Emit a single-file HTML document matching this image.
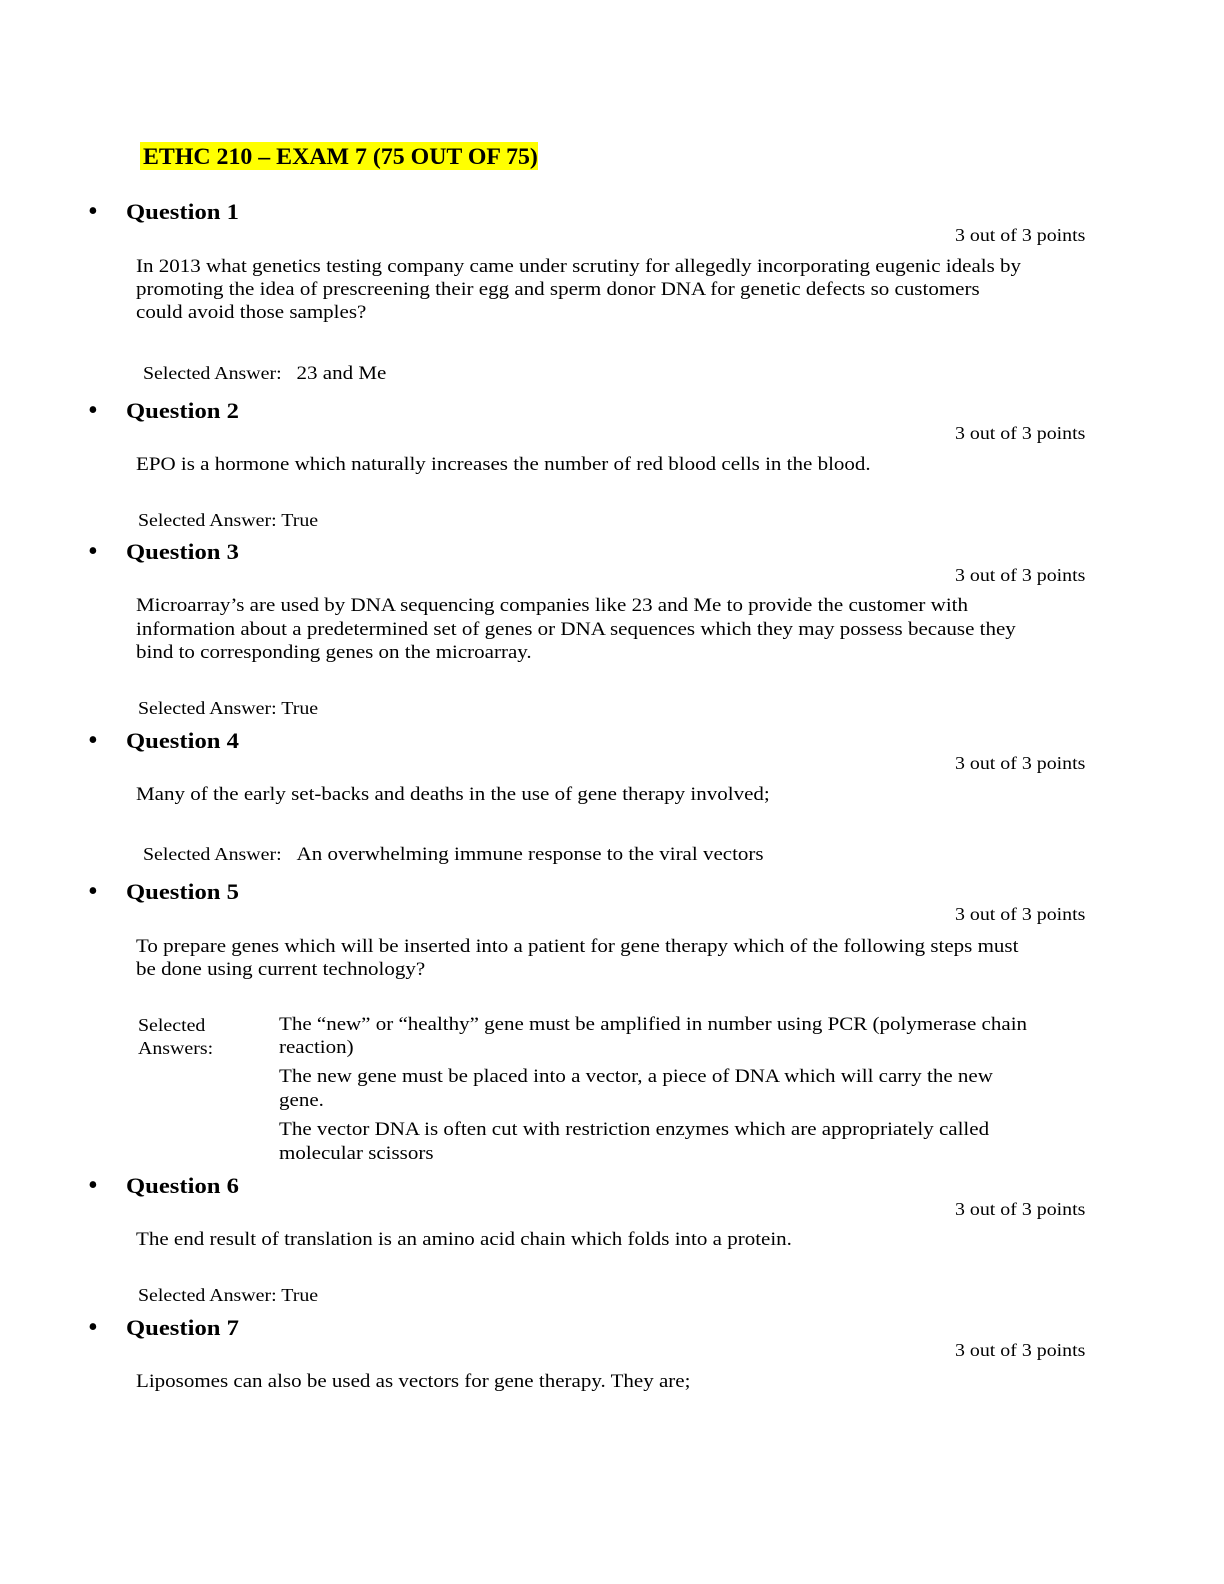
<!DOCTYPE html>
<html><head><meta charset="utf-8"><style>
body{margin:0;background:#fff;}
.p{position:relative;width:1224px;height:1584px;background:#fff;font-family:"Liberation Serif",serif;color:#000;}
.p>div{transform-origin:0 0;}
.l{position:absolute;white-space:nowrap;font-size:19px;line-height:24px;transform:scaleX(1.105);}
.h{position:absolute;white-space:nowrap;font-size:22px;font-weight:bold;line-height:26px;transform:scaleX(1.12);}
.b{position:absolute;left:88px;font-size:28px;line-height:26px;}
.pt{position:absolute;left:955px;white-space:nowrap;font-size:18px;line-height:24px;transform:scaleX(1.105);}
.s{position:absolute;white-space:nowrap;font-size:18px;line-height:24px;transform:scaleX(1.105);}
</style></head><body><div class="p">
<div style="position:absolute;left:140px;top:142px;width:398px;height:28px;background:#ffff00"></div>
<div class="h" style="left:143px;top:144px;font-size:23px;transform:scaleX(1.037)">ETHC 210 – EXAM 7 (75 OUT OF 75)</div>

<div class="b" style="top:199px">•</div><div class="h" style="left:126px;top:199px">Question 1</div>
<div class="pt" style="top:223px">3 out of 3 points</div>
<div class="l" style="left:136px;top:255px">In 2013 what genetics testing company came under scrutiny for allegedly incorporating eugenic ideals by</div>
<div class="l" style="left:136px;top:278px">promoting the idea of prescreening their egg and sperm donor DNA for genetic defects so customers</div>
<div class="l" style="left:136px;top:301px">could avoid those samples?</div>
<div class="s" style="left:143px;top:361px">Selected Answer:&nbsp;&nbsp;&nbsp;<span style="font-size:19px">23 and Me</span></div>

<div class="b" style="top:398px">•</div><div class="h" style="left:126px;top:398px">Question 2</div>
<div class="pt" style="top:421px">3 out of 3 points</div>
<div class="l" style="left:136px;top:453px">EPO is a hormone which naturally increases the number of red blood cells in the blood.</div>
<div class="s" style="left:138px;top:508px">Selected Answer: True</div>

<div class="b" style="top:539px">•</div><div class="h" style="left:126px;top:539px">Question 3</div>
<div class="pt" style="top:563px">3 out of 3 points</div>
<div class="l" style="left:136px;top:594px">Microarray’s are used by DNA sequencing companies like 23 and Me to provide the customer with</div>
<div class="l" style="left:136px;top:618px">information about a predetermined set of genes or DNA sequences which they may possess because they</div>
<div class="l" style="left:136px;top:641px">bind to corresponding genes on the microarray.</div>
<div class="s" style="left:138px;top:696px">Selected Answer: True</div>

<div class="b" style="top:728px">•</div><div class="h" style="left:126px;top:728px">Question 4</div>
<div class="pt" style="top:751px">3 out of 3 points</div>
<div class="l" style="left:136px;top:783px">Many of the early set-backs and deaths in the use of gene therapy involved;</div>
<div class="s" style="left:143px;top:842px">Selected Answer:&nbsp;&nbsp;&nbsp;<span style="font-size:19px">An overwhelming immune response to the viral vectors</span></div>

<div class="b" style="top:879px">•</div><div class="h" style="left:126px;top:879px">Question 5</div>
<div class="pt" style="top:902px">3 out of 3 points</div>
<div class="l" style="left:136px;top:935px">To prepare genes which will be inserted into a patient for gene therapy which of the following steps must</div>
<div class="l" style="left:136px;top:958px">be done using current technology?</div>
<div class="s" style="left:138px;top:1013px">Selected</div>
<div class="s" style="left:138px;top:1036px">Answers:</div>
<div class="l" style="left:279px;top:1013px">The “new” or “healthy” gene must be amplified in number using PCR (polymerase chain</div>
<div class="l" style="left:279px;top:1036px">reaction)</div>
<div class="l" style="left:279px;top:1065px">The new gene must be placed into a vector, a piece of DNA which will carry the new</div>
<div class="l" style="left:279px;top:1089px">gene.</div>
<div class="l" style="left:279px;top:1118px">The vector DNA is often cut with restriction enzymes which are appropriately called</div>
<div class="l" style="left:279px;top:1142px">molecular scissors</div>

<div class="b" style="top:1173px">•</div><div class="h" style="left:126px;top:1173px">Question 6</div>
<div class="pt" style="top:1197px">3 out of 3 points</div>
<div class="l" style="left:136px;top:1228px">The end result of translation is an amino acid chain which folds into a protein.</div>
<div class="s" style="left:138px;top:1283px">Selected Answer: True</div>

<div class="b" style="top:1315px">•</div><div class="h" style="left:126px;top:1315px">Question 7</div>
<div class="pt" style="top:1338px">3 out of 3 points</div>
<div class="l" style="left:136px;top:1370px">Liposomes can also be used as vectors for gene therapy. They are;</div>
</div></body></html>
